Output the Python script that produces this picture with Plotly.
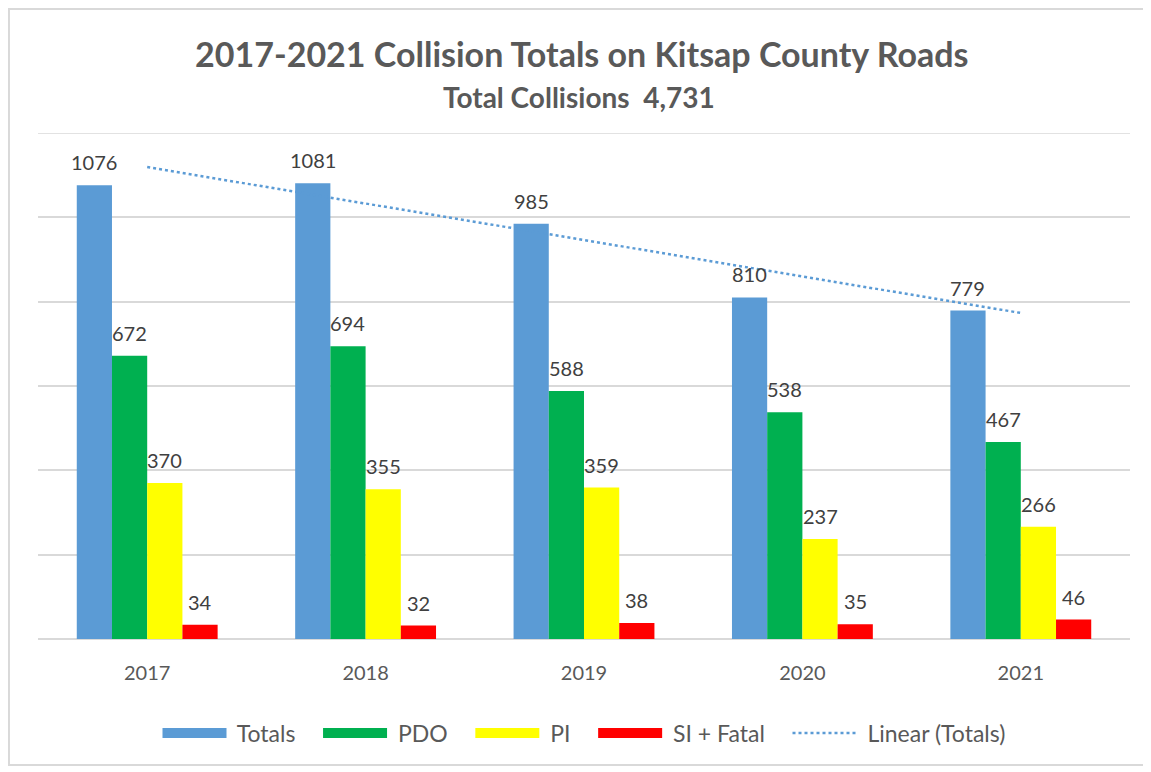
import numpy as np
import plotly.graph_objects as go

years = ["2017", "2018", "2019", "2020", "2021"]
totals = [1076, 1081, 985, 810, 779]
pdo = [672, 694, 588, 538, 467]
pi = [370, 355, 359, 237, 266]
si_fatal = [34, 32, 38, 35, 46]

series_names = ["Totals", "PDO", "PI", "SI + Fatal"]
series_values = [totals, pdo, pi, si_fatal]
colors = ["#5B9BD5", "#00B050", "#FFFF00", "#FF0000"]

FONT = "Lato"
BARGAP = 0.355
NB = "\u00a0"
n_series = len(series_values)
bar_w = (1 - BARGAP) / n_series

fig = go.Figure()
annotations = []
for k, (name, vals, col) in enumerate(zip(series_names, series_values, colors)):
    fig.add_trace(go.Bar(
        x=years, y=vals, name=name, marker=dict(color=col, line=dict(width=0)),
        showlegend=False,
    ))
    # legend entry shaped like a wide swatch
    fig.add_trace(go.Scatter(
        x=[None], y=[None], mode="lines", name=NB + name + NB * 3,
        line=dict(color=col, width=13),
    ))
    for i, v in enumerate(vals):
        xc = i - (1 - BARGAP) / 2 + (k + 0.5) * bar_w
        annotations.append(dict(
            x=xc, y=v, xref="x", yref="y", text=str(v), showarrow=False,
            yanchor="middle", yshift=23,
            font=dict(family=FONT, size=20, color="#404040"),
        ))

# linear trendline of totals
xi = np.arange(1, len(totals) + 1)
slope, intercept = np.polyfit(xi, totals, 1)
trend = slope * xi + intercept
fig.add_trace(go.Scatter(
    x=years, y=trend, mode="lines", name=NB + "Linear (Totals)",
    line=dict(color="#5B9BD5", width=2.5, dash="dot"),
))

annotations.append(dict(
    x=0.4955, y=1.071, xref="paper", yref="paper", xanchor="center", yanchor="middle",
    text="<b>Total Collisions" + NB + NB + "4,731</b>", showarrow=False,
    font=dict(family=FONT, size=28, color="#595959"),
))

fig.update_layout(
    width=1143, height=764,
    paper_bgcolor="white", plot_bgcolor="white",
    margin=dict(l=30, r=21, t=125, b=133),
    barmode="group", bargap=BARGAP, bargroupgap=0,
    font=dict(family=FONT, color="#595959"),
    showlegend=True,
    legend=dict(orientation="h", x=0.5, xanchor="center", y=-0.186, yanchor="middle",
                font=dict(family=FONT, size=23, color="#595959"),
                itemwidth=64, tracegroupgap=0),
    title=dict(
        text="<b>2017-2021 Collision Totals on Kitsap County Roads</b>",
        x=0.502, xanchor="center", y=0.938, yanchor="middle",
        font=dict(family=FONT, size=34, color="#595959"),
    ),
    xaxis=dict(showgrid=False, showline=False, ticks="", zeroline=False,
               ticklabelstandoff=20,
               tickfont=dict(family=FONT, size=20, color="#595959")),
    yaxis=dict(range=[0, 1200], dtick=200, showticklabels=False, showgrid=True,
               gridcolor="#D9D9D9", gridwidth=1.5, zeroline=True,
               zerolinecolor="#D9D9D9", zerolinewidth=1.5, showline=False, ticks=""),
    annotations=annotations,
)

# top gridline (at the axis maximum) which plotly omits at the plot edge
fig.add_shape(type="line", xref="paper", yref="y", x0=0, x1=1, y0=1200, y1=1200,
              line=dict(color="#D9D9D9", width=1.5), layer="below")

fig.add_shape(type="rect", xref="paper", yref="paper",
              x0=-0.0266, x1=1.0147, y0=-0.249, y1=1.245,
              line=dict(color="#D9D9D9", width=2), fillcolor="rgba(0,0,0,0)", layer="below")

fig.write_html("out.html")
